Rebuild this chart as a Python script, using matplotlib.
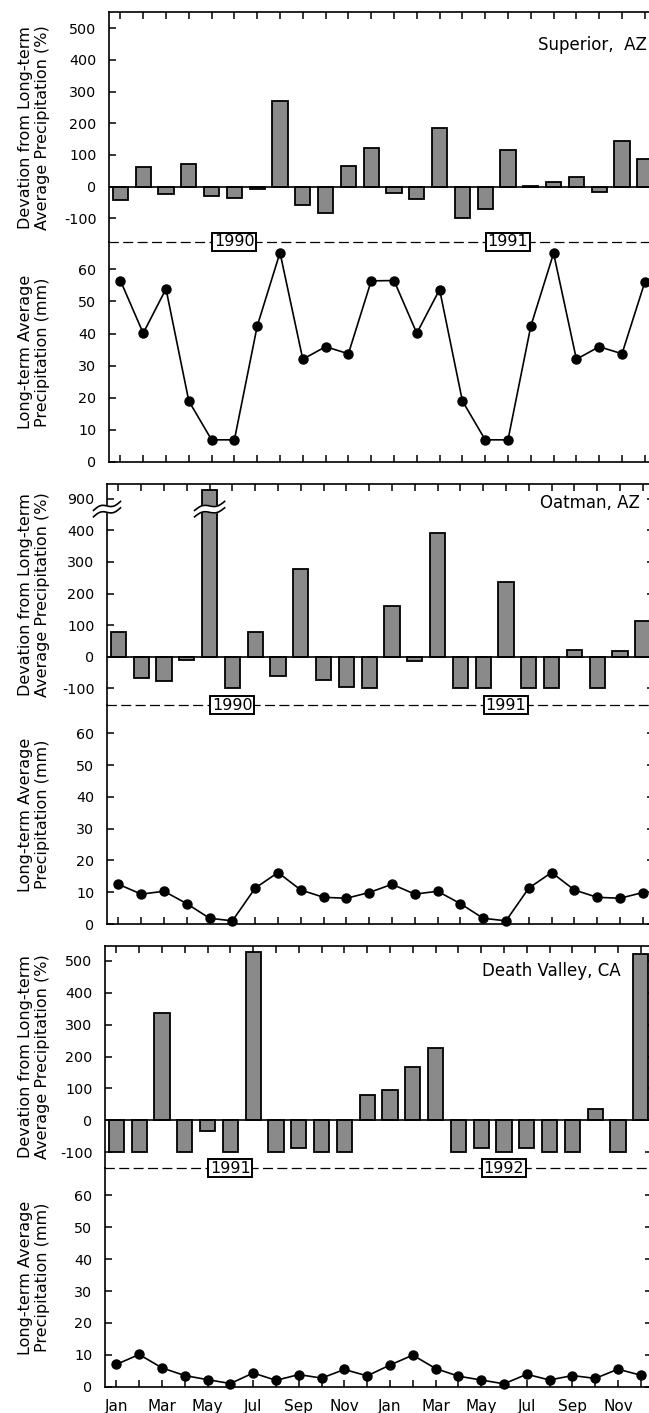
import matplotlib
matplotlib.use("Agg")
import matplotlib.pyplot as plt
import matplotlib.transforms as mtransforms
import numpy as np

plt.rcParams['font.family'] = ['DejaVu Sans']
plt.rcParams['axes.unicode_minus'] = False

# ---------------------------------------------------------------
# Data
# ---------------------------------------------------------------
month_labels = ['Jan', '', 'Mar', '', 'May', '', 'Jul', '', 'Sep', '', 'Nov', '',
                'Jan', '', 'Mar', '', 'May', '', 'Jul', '', 'Sep', '', 'Nov', '']

# Superior, AZ  (1990-1991)
superior_dev = [-43, 62, -24, 71, -31, -36, -7, 269, -57, -84, 66, 121,
                -22, -41, 186, -100, -72, 116, 3, 14, 31, -17, 143, 86]
superior_avg = [56.5, 40.1, 53.9, 19.0, 6.9, 6.9, 42.3, 65.2, 32.0, 35.9, 33.7, 56.4,
                56.5, 40.1, 53.7, 19.0, 6.9, 6.9, 42.3, 65.0, 32.0, 35.9, 33.7, 56.0]
superior_years = ['1990', '1991']

# Oatman, AZ  (1990-1991) ; May 1990 is off the scale (axis broken at 900)
oatman_dev = [78, -68, -76, -11, 928, -100, 77, -61, 279, -74, -95, -100,
              160, -14, 393, -100, -100, 236, -100, -100, 20, -100, 18, 114]
oatman_avg = [12.5, 9.4, 10.3, 6.4, 1.8, 1.0, 11.3, 16.2, 10.7, 8.4, 8.1, 9.9,
              12.5, 9.4, 10.3, 6.4, 1.8, 1.0, 11.3, 16.2, 10.7, 8.4, 8.1, 9.9]
oatman_years = ['1990', '1991']

# Death Valley, CA  (1991-1992)
dv_dev = [-100, -100, 336, -100, -35, -100, 527, -100, -88, -100, -100, 78,
          95, 166, 228, -100, -88, -100, -88, -100, -100, 35, -100, 522]
dv_avg = [7.0, 10.1, 5.9, 3.5, 2.2, 1.0, 4.3, 2.0, 3.8, 2.7, 5.4, 3.4,
          6.8, 9.9, 5.7, 3.3, 2.1, 0.9, 3.9, 2.1, 3.5, 2.6, 5.5, 3.6]
dv_years = ['1991', '1992']

# ---------------------------------------------------------------
W, H = 649, 1413
fig = plt.figure(figsize=(W / 100, H / 100), dpi=100)

BAR_COLOR = '#8a8a8a'
STEP = 22.8          # px per month
XLIM = (-0.5, 23.5)
AX_W = (XLIM[1] - XLIM[0]) * STEP


def add_ax(left, top, bottom):
    return fig.add_axes([left / W, 1 - bottom / H, AX_W / W, (bottom - top) / H])


def style(ax):
    for s in ax.spines.values():
        s.set_linewidth(1.2)
    ax.tick_params(direction='in', length=5, width=1.1, labelsize=10.3, pad=9,
                   right=True, top=True)
    ax.set_xlim(*XLIM)
    ax.set_xticks(np.arange(24))


def draw_break(ax, xc, yc, w_px):
    # wavy double break mark centred on (xc, yc) in data coords
    trans = fig.dpi_scale_trans + mtransforms.ScaledTranslation(xc, yc, ax.transData)
    t = np.linspace(-1, 1, 40)
    xs = t * w_px / 2
    base = 4.5 * t - 2.4 * np.sin(np.pi * t)
    up = (base + 3.2) / 100
    lo = (base - 3.2) / 100
    xs = xs / 100
    ax.fill(np.r_[xs, xs[::-1]], np.r_[up, lo[::-1]], color='white',
            transform=trans, clip_on=False, zorder=6)
    ax.plot(xs, up, color='black', lw=1.2, transform=trans, clip_on=False, zorder=7)
    ax.plot(xs, lo, color='black', lw=1.2, transform=trans, clip_on=False, zorder=7)


def panel(left, top, zero, mid, bottom, bar_lim, line_lim, dev, avg, years,
          site, site_pos, bar_ticks, bar_ticklabels, show_months=False,
          brk=None):
    axb = add_ax(left, top, mid)
    axl = add_ax(left, mid, bottom)
    x = np.arange(24)

    # deviation bars
    style(axb)
    shown = list(dev)
    if brk is not None:
        shown = [v - brk[1] if v > brk[0] else v for v in dev]
    axb.bar(x, shown, width=0.66, color=BAR_COLOR, edgecolor='black',
            linewidth=1.3, zorder=2)
    axb.axhline(0, color='black', lw=1.2, zorder=3)
    axb.set_ylim(*bar_lim)
    axb.set_yticks(bar_ticks)
    axb.set_yticklabels(bar_ticklabels)
    axb.spines['bottom'].set_visible(False)
    axb.tick_params(axis='x', bottom=False, labelbottom=False, labeltop=False)
    axb.tick_params(axis='y', labelright=False)
    axb.text(site_pos[0], site_pos[1], site, ha='right', va='center', fontsize=12)
    if brk is not None:
        for i, v in enumerate(dev):
            if v > brk[0]:
                draw_break(axb, i, brk[2], 30)
        draw_break(axb, XLIM[0], brk[2], 27)

    # long-term average line
    style(axl)
    axl.plot(x, avg, color='black', lw=1.2, marker='o', ms=6.5, zorder=3,
             clip_on=False)
    axl.set_ylim(*line_lim)
    axl.set_yticks(np.arange(0, 61, 10))
    axl.spines['top'].set_linestyle((0, (7, 4.5)))
    axl.spines['top'].set_linewidth(0.9)
    axl.tick_params(axis='x', top=False, labeltop=False)
    axl.tick_params(axis='y', labelright=False)
    if show_months:
        axl.set_xticklabels(month_labels, fontsize=11)
        axl.tick_params(axis='x', pad=9)
    else:
        axl.tick_params(axis='x', labelbottom=False)
    for xi, yr in zip([5, 17], years):
        axl.text(xi, line_lim[1], yr, ha='center', va='center', fontsize=11.5,
                 zorder=8, clip_on=False,
                 bbox=dict(boxstyle='square,pad=0.1', fc='white', ec='black', lw=1.4))

    fig.text(34 / W, 1 - (top + mid) / 2 / H,
             'Devation from Long-term\nAverage Precipitation (%)',
             rotation=90, ha='center', va='center', fontsize=11.5,
             multialignment='center', linespacing=1.1)
    fig.text(34 / W, 1 - (mid + bottom) / 2 / H,
             'Long-term Average\nPrecipitation (mm)',
             rotation=90, ha='center', va='center', fontsize=11.5,
             multialignment='center', linespacing=1.1)


std_ticks = [-100, 0, 100, 200, 300, 400, 500]
std_labels = ['-100', '0', '100', '200', '300', '400', '500']

panel(109, 12.3, 186.5, 242, 462, (-175.4, 550.6), (0, 68.5),
      superior_dev, superior_avg, superior_years,
      'Superior,  AZ', (23.1, 447), std_ticks, std_labels)

panel(107, 484, 656.7, 705, 924, (-152.8, 546.5), (0, 68.9),
      oatman_dev, oatman_avg, oatman_years,
      'Oatman, AZ', (22.85, 486),
      [-100, 0, 100, 200, 300, 400, 500],
      ['-100', '0', '100', '200', '300', '400', '900'],
      brk=(500, 400, 467))

panel(105, 945.7, 1120.3, 1168.3, 1386.7, (-150.7, 548), (0, 68.5),
      dv_dev, dv_avg, dv_years,
      'Death Valley, CA', (22.1, 469), std_ticks, std_labels,
      show_months=True)

fig.savefig('out.png', dpi=100)
